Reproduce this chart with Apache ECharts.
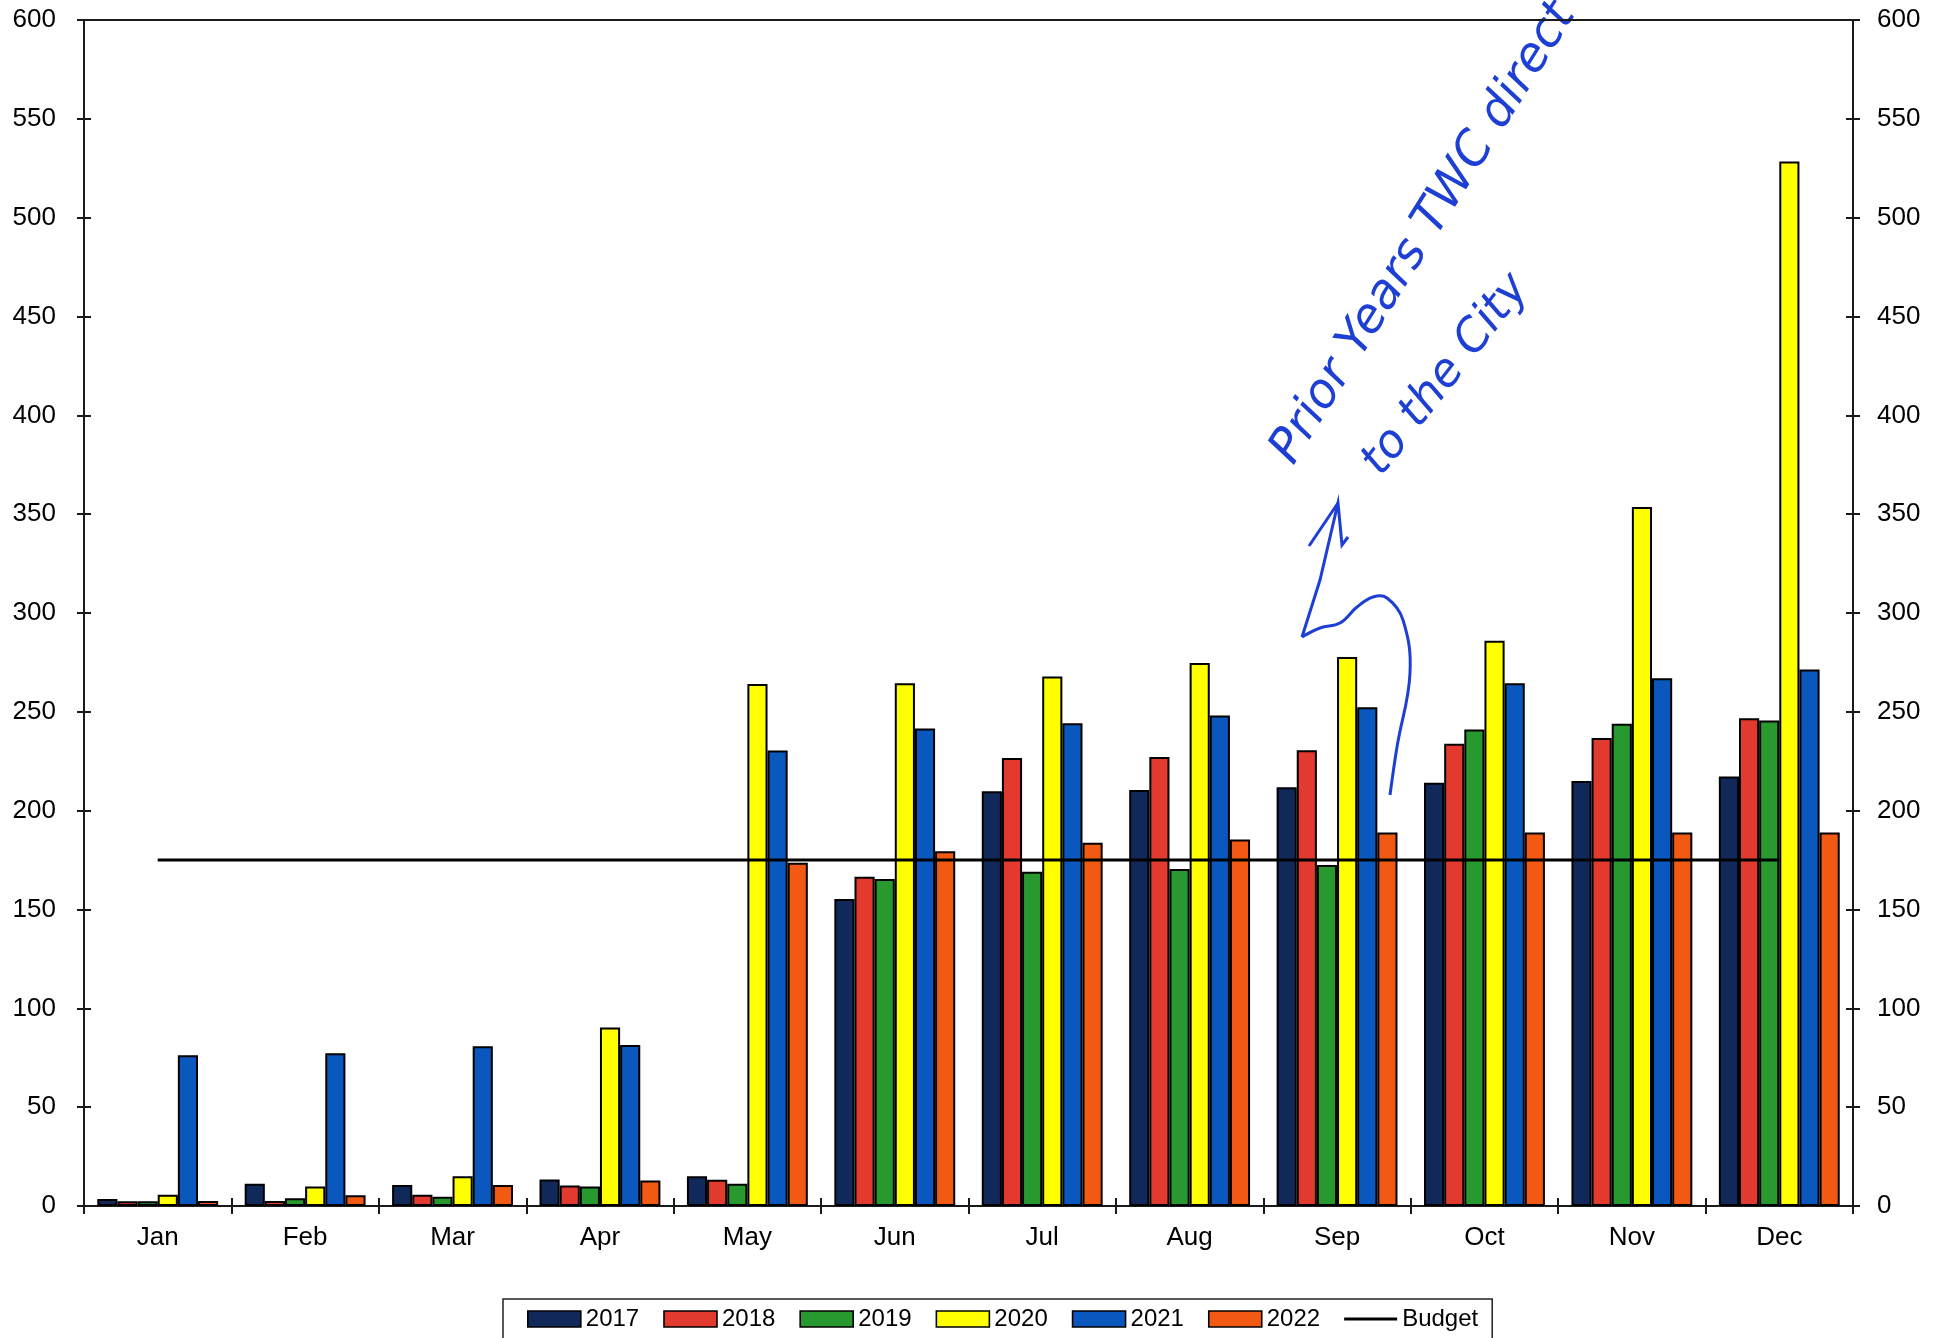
<!DOCTYPE html>
<html>
<head>
<meta charset="utf-8">
<script src="https://cdn.jsdelivr.net/npm/echarts@6/dist/echarts.min.js"></script>
<style>
html,body{margin:0;padding:0;background:#fff;}
#chart{width:1944px;height:1338px;}
</style>
</head>
<body>
<div id="chart"></div>
<script>
var months = ['Jan','Feb','Mar','Apr','May','Jun','Jul','Aug','Sep','Oct','Nov','Dec'];
var yTicks = [0,50,100,150,200,250,300,350,400,450,500,550,600];
var s2017 = [3.5, 11.3, 10.6, 13.4, 15.1, 155.3, 209.8, 210.4, 211.9, 214.1, 215.0, 217.3];
var s2018 = [2.4, 2.5, 5.7, 10.4, 13.3, 166.6, 226.7, 227.2, 230.6, 233.8, 236.7, 246.8];
var s2019 = [2.4, 3.9, 4.7, 9.9, 11.3, 165.4, 169.1, 170.5, 172.5, 241.0, 244.0, 245.6];
var s2020 = [5.7, 9.9, 15.0, 90.3, 264.1, 264.4, 267.9, 274.7, 277.8, 285.9, 353.6, 528.4];
var s2021 = [76.3, 77.3, 80.8, 81.5, 230.5, 241.6, 244.2, 248.2, 252.3, 264.5, 267.0, 271.4];
var s2022 = [2.5, 5.4, 10.6, 12.9, 173.7, 179.5, 183.8, 185.4, 189.0, 188.9, 189.0, 189.0];
var budget = [175, 175, 175, 175, 175, 175, 175, 175, 175, 175, 175, 175];
var seriesNames = ['2017','2018','2019','2020','2021','2022'];
var seriesData = [s2017, s2018, s2019, s2020, s2021, s2022];
var colors = ['#10295a', '#e23a2e', '#28992f', '#ffff00', '#0a58be', '#f25a14'];

var FONT = '"Liberation Sans", Arial, sans-serif';
var yMin = yTicks[0], yMax = yTicks[yTicks.length - 1], yStep = yTicks[1] - yTicks[0];

function yAx(pos, labels, inside) {
  return {
    type: 'value', position: pos, min: yMin, max: yMax, interval: yStep,
    splitLine: {show: false},
    axisLine: {show: labels, lineStyle: {color: '#1a1a1a', width: 2}},
    axisTick: {show: true, inside: inside, length: 7, lineStyle: {color: '#1a1a1a', width: 2}},
    axisLabel: {show: labels, color: '#000', fontSize: 26, fontFamily: FONT, margin: pos === 'left' ? 28 : 24}
  };
}
function xAx(pos, labels, inside, ticks) {
  return {
    type: 'category', position: pos, data: months, boundaryGap: true,
    axisLine: {show: labels || pos === 'top', onZero: false, lineStyle: {color: '#1a1a1a', width: 2}},
    axisTick: {show: ticks, inside: inside, length: 8, lineStyle: {color: '#1a1a1a', width: 2}},
    axisLabel: {show: labels, color: '#000', fontSize: 26, fontFamily: FONT, margin: 19},
    splitLine: {show: false}
  };
}

var series = seriesNames.map(function (n, i) {
  return {
    name: n, type: 'bar', xAxisIndex: 0, yAxisIndex: 0,
    data: seriesData[i],
    barGap: '0%', barCategoryGap: '18%',
    itemStyle: {color: colors[i], borderColor: '#000', borderWidth: 2},
    z: 2
  };
});
series.push({
  name: 'Budget', type: 'line', xAxisIndex: 0, yAxisIndex: 0,
  data: budget, symbol: 'none', showSymbol: false,
  lineStyle: {color: '#000', width: 3}, itemStyle: {color: '#000'}, z: 5
});

var ink = '#1d3fd4';
var legendData = seriesNames.map(function (n) { return {name: n, icon: 'rect'}; });
legendData.push({name: 'Budget', icon: 'path://M0,0 L1,0 Z M0,6.5 L53,6.5 L53,9.5 L0,9.5 Z M0,16 L1,16 Z',
  itemStyle: {color: '#000', borderWidth: 0}});

var option = {
  backgroundColor: '#fff',
  animation: false,
  grid: {left: 84, right: 91, top: 20, bottom: 132, containLabel: false},
  xAxis: [xAx('bottom', true, false, true), xAx('bottom', false, true, true), xAx('top', false, false, false)],
  yAxis: [yAx('left', true, false), yAx('left', false, true), yAx('right', true, false), yAx('right', false, true)],
  legend: {
    left: 503, top: 1299,
    data: legendData,
    itemWidth: 53, itemHeight: 16, itemGap: 24,
    itemStyle: {borderColor: '#000', borderWidth: 1.6},
    textStyle: {color: '#000', fontSize: 24, fontFamily: FONT},
    borderColor: '#222', borderWidth: 1.5, padding: [8, 14, 8, 24],
    backgroundColor: '#fff'
  },
  series: series,
  graphic: [
    {type: 'text', x: 1303, y: 472, rotation: 58 * Math.PI / 180,
     style: {text: 'Prior Years TWC direct', fill: ink, font: 'italic 48px "DejaVu Sans", sans-serif', textAlign: 'left', textVerticalAlign: 'bottom'}},
    {type: 'text', x: 1390, y: 484, rotation: 52 * Math.PI / 180,
     style: {text: 'to the City', fill: ink, font: 'italic 46px "DejaVu Sans", sans-serif', textAlign: 'left', textVerticalAlign: 'bottom'}},
    {type: 'polyline', shape: {smooth: 0.4, points: [[1390,795],[1397,747],[1410,673],[1403,620],[1387,598],[1373,597],[1357,607],[1340,623],[1320,628],[1302,637]]},
     style: {stroke: ink, lineWidth: 3, fill: null}},
    {type: 'polyline', shape: {points: [[1302,637],[1320,580],[1338,503],[1342,545],[1348,537]]},
     style: {stroke: ink, lineWidth: 3, fill: null}},
    {type: 'polyline', shape: {points: [[1309,546],[1338,503]]},
     style: {stroke: ink, lineWidth: 3, fill: null}}
  ]
};
var chart = echarts.init(document.getElementById('chart'), null, {renderer: 'canvas'});
chart.setOption(option);
</script>
</body>
</html>
